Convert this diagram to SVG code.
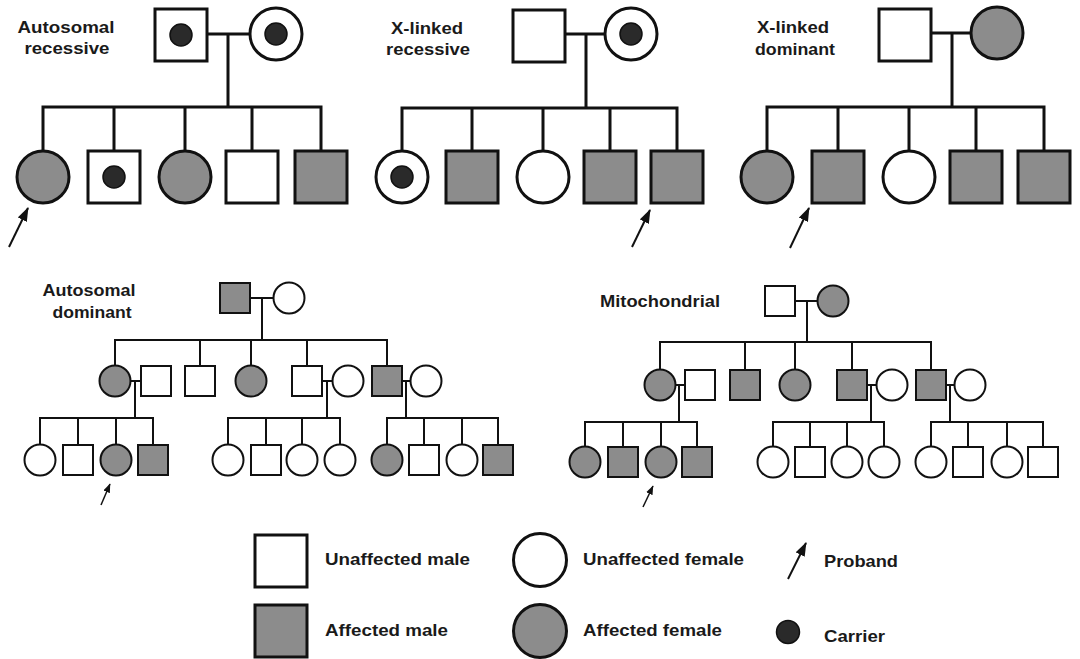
<svg xmlns="http://www.w3.org/2000/svg" width="1080" height="659" viewBox="0 0 1080 659">
  <style>
    .bg { fill: #ffffff; }
    .lg rect, .lg circle { stroke: #111; stroke-width: 3; }
    .sm rect, .sm circle { stroke: #111; stroke-width: 2; }
    .u { fill: #ffffff; }
    .f { fill: #8c8c8c; }
    circle.dot { fill: #2a2a2a; stroke: #111; stroke-width: 1.5; }
    .w3 { stroke: #111; stroke-width: 3; fill: none; stroke-linecap: square; }
    .w2 { stroke: #111; stroke-width: 2; fill: none; stroke-linecap: square; }
    .arL { stroke: #111; stroke-width: 2; fill: none; marker-end: url(#headL); }
    .arS { stroke: #111; stroke-width: 1.5; fill: none; marker-end: url(#headS); }
    .lbl { font-family: "Liberation Sans", Arial, sans-serif; font-weight: bold; font-size: 16.5px; fill: #1a1a1a; }
    .mid { text-anchor: middle; }
  </style>
  <defs>
    <marker id="headL" markerUnits="userSpaceOnUse" markerWidth="16" markerHeight="12" refX="13" refY="5" orient="auto">
      <path d="M0,0 L14,5 L0,10 z" fill="#111"/>
    </marker>
    <marker id="headS" markerUnits="userSpaceOnUse" markerWidth="11" markerHeight="8" refX="8.5" refY="3.5" orient="auto">
      <path d="M0,0 L9,3.5 L0,7 z" fill="#111"/>
    </marker>
  </defs>

  <rect class="bg" x="0" y="0" width="1080" height="659"/>

  <!-- ===== Autosomal recessive ===== -->
  <g id="autosomal-recessive" class="lg">
    <g id="ar-title">
      <text class="lbl mid" x="66" y="33" textLength="97" lengthAdjust="spacingAndGlyphs">Autosomal</text>
      <text class="lbl mid" x="67" y="54" textLength="85" lengthAdjust="spacingAndGlyphs">recessive</text>
    </g>
    <g id="ar-connectors">
      <path class="w3" d="M207,34 H250 M228,34 V107 M43,107 H321 M43,107 V151 M114,107 V151 M185,107 V151 M252,107 V151 M321,107 V151"/>
    </g>
    <g id="ar-I-1"><rect class="u" x="155" y="9" width="52" height="52"/><circle class="dot" cx="181" cy="35" r="11"/></g>
    <g id="ar-I-2"><circle class="u" cx="276" cy="34" r="26"/><circle class="dot" cx="276" cy="34" r="11"/></g>
    <g id="ar-II-1"><circle class="f" cx="43" cy="177" r="26"/></g>
    <g id="ar-II-2"><rect class="u" x="88" y="151" width="52" height="52"/><circle class="dot" cx="114" cy="177" r="11"/></g>
    <g id="ar-II-3"><circle class="f" cx="185" cy="177" r="26"/></g>
    <g id="ar-II-4"><rect class="u" x="226" y="151" width="52" height="52"/></g>
    <g id="ar-II-5"><rect class="f" x="295" y="151" width="52" height="52"/></g>
    <g id="ar-proband"><line class="arL" x1="9" y1="247" x2="28" y2="208"/></g>
  </g>

  <!-- ===== X-linked recessive ===== -->
  <g id="x-linked-recessive" class="lg">
    <g id="xr-title">
      <text class="lbl mid" x="427" y="34" textLength="72" lengthAdjust="spacingAndGlyphs">X-linked</text>
      <text class="lbl mid" x="428" y="55" textLength="84" lengthAdjust="spacingAndGlyphs">recessive</text>
    </g>
    <g id="xr-connectors">
      <path class="w3" d="M565,34 H605 M586,34 V108 M402,108 H677 M402,108 V151 M472,108 V151 M543,108 V151 M610,108 V151 M677,108 V151"/>
    </g>
    <g id="xr-I-1"><rect class="u" x="513" y="10" width="52" height="52"/></g>
    <g id="xr-I-2"><circle class="u" cx="631" cy="34" r="26"/><circle class="dot" cx="631" cy="34" r="11"/></g>
    <g id="xr-II-1"><circle class="u" cx="402" cy="177" r="26"/><circle class="dot" cx="402" cy="177" r="11"/></g>
    <g id="xr-II-2"><rect class="f" x="446" y="151" width="52" height="52"/></g>
    <g id="xr-II-3"><circle class="u" cx="543" cy="177" r="26"/></g>
    <g id="xr-II-4"><rect class="f" x="584" y="151" width="52" height="52"/></g>
    <g id="xr-II-5"><rect class="f" x="651" y="151" width="52" height="52"/></g>
    <g id="xr-proband"><line class="arL" x1="632" y1="247" x2="650" y2="210"/></g>
  </g>

  <!-- ===== X-linked dominant ===== -->
  <g id="x-linked-dominant" class="lg">
    <g id="xd-title">
      <text class="lbl mid" x="793" y="33" textLength="72" lengthAdjust="spacingAndGlyphs">X-linked</text>
      <text class="lbl mid" x="795" y="55" textLength="80" lengthAdjust="spacingAndGlyphs">dominant</text>
    </g>
    <g id="xd-connectors">
      <path class="w3" d="M931,33 H971 M952,33 V107 M767,107 H1044 M767,107 V151 M838,107 V151 M909,107 V151 M976,107 V151 M1044,107 V151"/>
    </g>
    <g id="xd-I-1"><rect class="u" x="879" y="9" width="52" height="52"/></g>
    <g id="xd-I-2"><circle class="f" cx="997" cy="33" r="26"/></g>
    <g id="xd-II-1"><circle class="f" cx="767" cy="177" r="26"/></g>
    <g id="xd-II-2"><rect class="f" x="812" y="151" width="52" height="52"/></g>
    <g id="xd-II-3"><circle class="u" cx="909" cy="177" r="26"/></g>
    <g id="xd-II-4"><rect class="f" x="950" y="151" width="52" height="52"/></g>
    <g id="xd-II-5"><rect class="f" x="1018" y="151" width="52" height="52"/></g>
    <g id="xd-proband"><line class="arL" x1="790" y1="248" x2="809" y2="208"/></g>
  </g>

  <!-- ===== Autosomal dominant ===== -->
  <g id="autosomal-dominant" class="sm">
    <g id="ad-title">
      <text class="lbl mid" x="89" y="296" textLength="93" lengthAdjust="spacingAndGlyphs">Autosomal</text>
      <text class="lbl mid" x="92" y="318" textLength="79" lengthAdjust="spacingAndGlyphs">dominant</text>
    </g>
    <g id="ad-connectors">
      <path class="w2" d="M250,298 H274 M262,298 V340 M115,340 H387 M115,340 V366 M200,340 V366 M251,340 V366 M307,340 V366 M387,340 V366"/>
      <path class="w2" d="M130,381 H141 M135,381 V418 M40,418 H153 M40,418 V445 M78,418 V445 M116,418 V445 M153,418 V445"/>
      <path class="w2" d="M322,381 H333 M327,381 V418 M228,418 H340 M228,418 V445 M266,418 V445 M302,418 V445 M340,418 V445"/>
      <path class="w2" d="M402,381 H411 M406,381 V418 M387,418 H498 M387,418 V445 M424,418 V445 M462,418 V445 M498,418 V445"/>
    </g>
    <g id="ad-I-1"><rect class="f" x="220" y="283" width="30" height="30"/></g>
    <g id="ad-I-2"><circle class="u" cx="289" cy="298" r="15.5"/></g>
    <g id="ad-II-1"><circle class="f" cx="115" cy="381" r="15.5"/></g>
    <g id="ad-II-1s"><rect class="u" x="141" y="366" width="30" height="30"/></g>
    <g id="ad-II-2"><rect class="u" x="185" y="366" width="30" height="30"/></g>
    <g id="ad-II-3"><circle class="f" cx="251" cy="381" r="15.5"/></g>
    <g id="ad-II-4"><rect class="u" x="292" y="366" width="30" height="30"/></g>
    <g id="ad-II-4s"><circle class="u" cx="348" cy="381" r="15.5"/></g>
    <g id="ad-II-5"><rect class="f" x="372" y="366" width="30" height="30"/></g>
    <g id="ad-II-5s"><circle class="u" cx="426" cy="381" r="15.5"/></g>
    <g id="ad-III-1"><circle class="u" cx="40" cy="460" r="15.5"/></g>
    <g id="ad-III-2"><rect class="u" x="63" y="445" width="30" height="30"/></g>
    <g id="ad-III-3"><circle class="f" cx="116" cy="460" r="15.5"/></g>
    <g id="ad-III-4"><rect class="f" x="138" y="445" width="30" height="30"/></g>
    <g id="ad-III-5"><circle class="u" cx="228" cy="460" r="15.5"/></g>
    <g id="ad-III-6"><rect class="u" x="251" y="445" width="30" height="30"/></g>
    <g id="ad-III-7"><circle class="u" cx="302" cy="460" r="15.5"/></g>
    <g id="ad-III-8"><circle class="u" cx="340" cy="460" r="15.5"/></g>
    <g id="ad-III-9"><circle class="f" cx="387" cy="460" r="15.5"/></g>
    <g id="ad-III-10"><rect class="u" x="409" y="445" width="30" height="30"/></g>
    <g id="ad-III-11"><circle class="u" cx="462" cy="460" r="15.5"/></g>
    <g id="ad-III-12"><rect class="f" x="483" y="445" width="30" height="30"/></g>
    <g id="ad-proband"><line class="arS" x1="101" y1="505" x2="110" y2="484"/></g>
  </g>

  <!-- ===== Mitochondrial ===== -->
  <g id="mitochondrial" class="sm">
    <g id="mt-title">
      <text class="lbl" x="600" y="307" textLength="120" lengthAdjust="spacingAndGlyphs">Mitochondrial</text>
    </g>
    <g id="mt-connectors">
      <path class="w2" d="M795,301 H818 M807,301 V342 M660,342 H931 M660,342 V370 M745,342 V370 M795,342 V370 M852,342 V370 M931,342 V370"/>
      <path class="w2" d="M675,385 H685 M679,385 V422 M585,422 H697 M585,422 V447 M623,422 V447 M661,422 V447 M697,422 V447"/>
      <path class="w2" d="M867,385 H877 M871,385 V422 M773,422 H884 M773,422 V447 M810,422 V447 M847,422 V447 M884,422 V447"/>
      <path class="w2" d="M946,385 H955 M950,385 V422 M931,422 H1043 M931,422 V447 M968,422 V447 M1007,422 V447 M1043,422 V447"/>
    </g>
    <g id="mt-I-1"><rect class="u" x="765" y="286" width="30" height="30"/></g>
    <g id="mt-I-2"><circle class="f" cx="833" cy="301" r="15.5"/></g>
    <g id="mt-II-1"><circle class="f" cx="660" cy="385" r="15.5"/></g>
    <g id="mt-II-1s"><rect class="u" x="685" y="370" width="30" height="30"/></g>
    <g id="mt-II-2"><rect class="f" x="730" y="370" width="30" height="30"/></g>
    <g id="mt-II-3"><circle class="f" cx="795" cy="385" r="15.5"/></g>
    <g id="mt-II-4"><rect class="f" x="837" y="370" width="30" height="30"/></g>
    <g id="mt-II-4s"><circle class="u" cx="892" cy="385" r="15.5"/></g>
    <g id="mt-II-5"><rect class="f" x="916" y="370" width="30" height="30"/></g>
    <g id="mt-II-5s"><circle class="u" cx="970" cy="385" r="15.5"/></g>
    <g id="mt-III-1"><circle class="f" cx="585" cy="462" r="15.5"/></g>
    <g id="mt-III-2"><rect class="f" x="608" y="447" width="30" height="30"/></g>
    <g id="mt-III-3"><circle class="f" cx="661" cy="462" r="15.5"/></g>
    <g id="mt-III-4"><rect class="f" x="682" y="447" width="30" height="30"/></g>
    <g id="mt-III-5"><circle class="u" cx="773" cy="462" r="15.5"/></g>
    <g id="mt-III-6"><rect class="u" x="795" y="447" width="30" height="30"/></g>
    <g id="mt-III-7"><circle class="u" cx="847" cy="462" r="15.5"/></g>
    <g id="mt-III-8"><circle class="u" cx="884" cy="462" r="15.5"/></g>
    <g id="mt-III-9"><circle class="u" cx="931" cy="462" r="15.5"/></g>
    <g id="mt-III-10"><rect class="u" x="953" y="447" width="30" height="30"/></g>
    <g id="mt-III-11"><circle class="u" cx="1007" cy="462" r="15.5"/></g>
    <g id="mt-III-12"><rect class="u" x="1028" y="447" width="30" height="30"/></g>
    <g id="mt-proband"><line class="arS" x1="643" y1="507" x2="653" y2="486"/></g>
  </g>

  <!-- ===== Key ===== -->
  <g id="key" class="lg">
    <g id="key-unaffected-male">
      <rect class="u" x="255" y="535" width="52" height="52"/>
      <text class="lbl" x="325" y="565" textLength="145" lengthAdjust="spacingAndGlyphs">Unaffected male</text>
    </g>
    <g id="key-affected-male">
      <rect class="f" x="255" y="605" width="52" height="52"/>
      <text class="lbl" x="325" y="636" textLength="123" lengthAdjust="spacingAndGlyphs">Affected male</text>
    </g>
    <g id="key-unaffected-female">
      <circle class="u" cx="540" cy="560" r="26.5"/>
      <text class="lbl" x="583" y="565" textLength="161" lengthAdjust="spacingAndGlyphs">Unaffected female</text>
    </g>
    <g id="key-affected-female">
      <circle class="f" cx="540" cy="631" r="26.5"/>
      <text class="lbl" x="583" y="636" textLength="139" lengthAdjust="spacingAndGlyphs">Affected female</text>
    </g>
    <g id="key-proband">
      <line class="arL" x1="788" y1="579" x2="806" y2="543"/>
      <text class="lbl" x="824" y="567" textLength="74" lengthAdjust="spacingAndGlyphs">Proband</text>
    </g>
    <g id="key-carrier">
      <circle class="dot" cx="788" cy="632" r="11.5"/>
      <text class="lbl" x="824" y="642" textLength="61" lengthAdjust="spacingAndGlyphs">Carrier</text>
    </g>
  </g>
</svg>
